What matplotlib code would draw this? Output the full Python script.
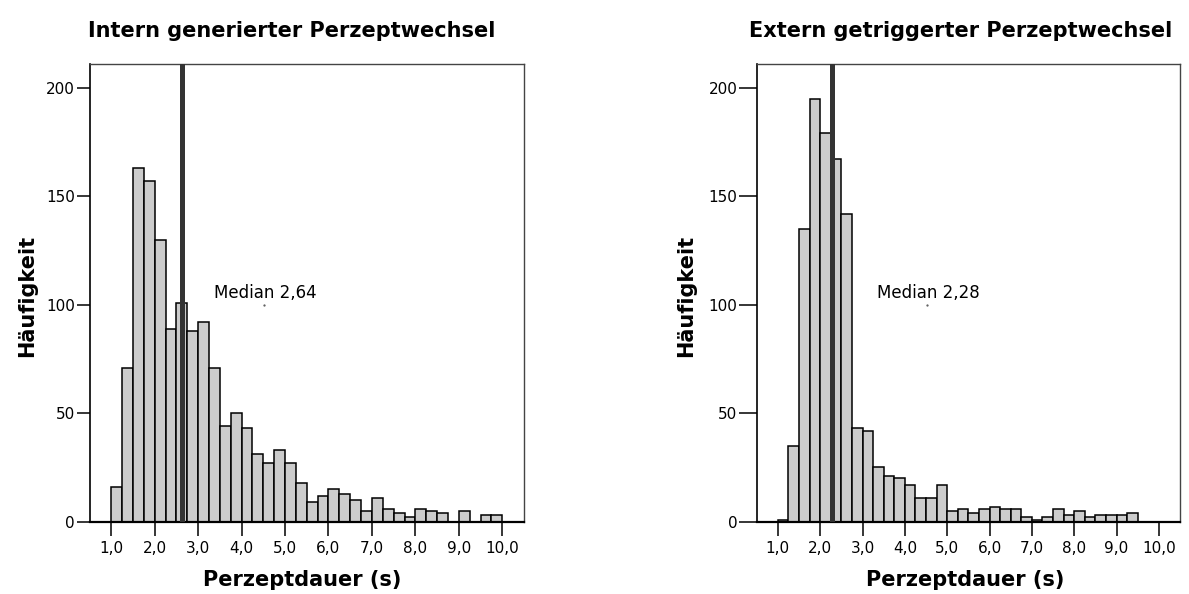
import numpy as np
import matplotlib
matplotlib.use("Agg")
import matplotlib.pyplot as plt
from matplotlib.ticker import FuncFormatter

plt.rcParams['font.family'] = ['DejaVu Sans']

# Histogram bins: 0.25 s wide, from 1.0 s to 10.0 s
bin_start = 1.0
bin_width = 0.25

# Counts per bin, internally generated percept switches
counts_intern = [16, 71, 163, 157, 130, 89, 101, 88, 92, 71, 44, 50,
                 43, 31, 27, 33, 27, 18, 9, 12, 15, 13, 10, 5,
                 11, 6, 4, 2, 6, 5, 4, 0, 5, 0, 3, 3]
# Counts per bin, externally triggered percept switches
counts_extern = [1, 35, 135, 195, 179, 167, 142, 43, 42, 25, 21, 20,
                 17, 11, 11, 17, 5, 6, 4, 6, 7, 6, 6, 2,
                 1, 2, 6, 3, 5, 2, 3, 3, 3, 4]

median_intern = 2.64
median_extern = 2.28

titles = ["Intern generierter Perzeptwechsel", "Extern getriggerter Perzeptwechsel"]
x_ticks = [1.0, 2.0, 3.0, 4.0, 5.0, 6.0, 7.0, 8.0, 9.0, 10.0]
y_ticks = [0, 50, 100, 150, 200]
x_label = "Perzeptdauer (s)"
y_label = "Häufigkeit"

W, H = 1189, 594
fig = plt.figure(figsize=(W / 100, H / 100), dpi=100)

# axes boxes in pixels: left, bottom(from top), width
panels = [
    dict(counts=counts_intern, median=median_intern, title=titles[0],
         box=(89.5, 521.7, 434.5), title_x=292, xlabel_x=302, ylabel_x=27, ytick_len=9.5),
    dict(counts=counts_extern, median=median_extern, title=titles[1],
         box=(756.7, 521.7, 423.3), title_x=961, xlabel_x=965, ylabel_x=686, ytick_len=13),
]

comma = FuncFormatter(lambda v, p: f"{v:.1f}".replace(".", ","))

for p in panels:
    x0, yb, w = p["box"]
    top = 64.0
    ax = fig.add_axes([x0 / W, (H - yb) / H, w / W, (yb - top) / H])
    counts = np.array(p["counts"])
    lefts = bin_start + bin_width * np.arange(len(counts))
    ax.bar(lefts, counts, width=bin_width, align="edge",
           color="#cccccc", edgecolor="black", linewidth=1.1, zorder=2)
    ax.axvline(p["median"], color="#333333", linewidth=3.6, zorder=3)
    ax.text(4.55, 103.3, f"Median {p['median']:.2f}".replace(".", ","),
            ha="center", va="baseline", fontsize=12, zorder=4)
    ax.plot([4.52], [100], marker=".", markersize=1.2, color="#555555", zorder=4)

    ax.set_xlim(0.5, 10.5)
    ax.set_ylim(0, 211)
    ax.set_xticks(x_ticks)
    ax.xaxis.set_major_formatter(comma)
    ax.set_yticks(y_ticks)

    ax.tick_params(axis="x", direction="out", length=10, width=1.1, pad=4,
                   labelsize=11, colors="black")
    ax.tick_params(axis="y", direction="out", length=p["ytick_len"], width=1.1,
                   pad=1, labelsize=11, colors="black")

    ax.spines["bottom"].set_linewidth(1.6)
    ax.spines["bottom"].set_color("black")
    ax.spines["left"].set_linewidth(1.2)
    ax.spines["left"].set_color("black")
    for s in ("top", "right"):
        ax.spines[s].set_linewidth(1.0)
        ax.spines[s].set_color("#444444")

    fig.text(p["title_x"] / W, (H - 37) / H, p["title"], ha="center",
             va="baseline", fontsize=15, fontweight="bold")
    fig.text(p["xlabel_x"] / W, (H - 586) / H, x_label, ha="center",
             va="baseline", fontsize=15, fontweight="bold")
    fig.text(p["ylabel_x"] / W, (H - 296) / H, y_label, ha="center",
             va="center", rotation=90, fontsize=15, fontweight="bold")

fig.savefig("out.png", dpi=100, facecolor="white")
